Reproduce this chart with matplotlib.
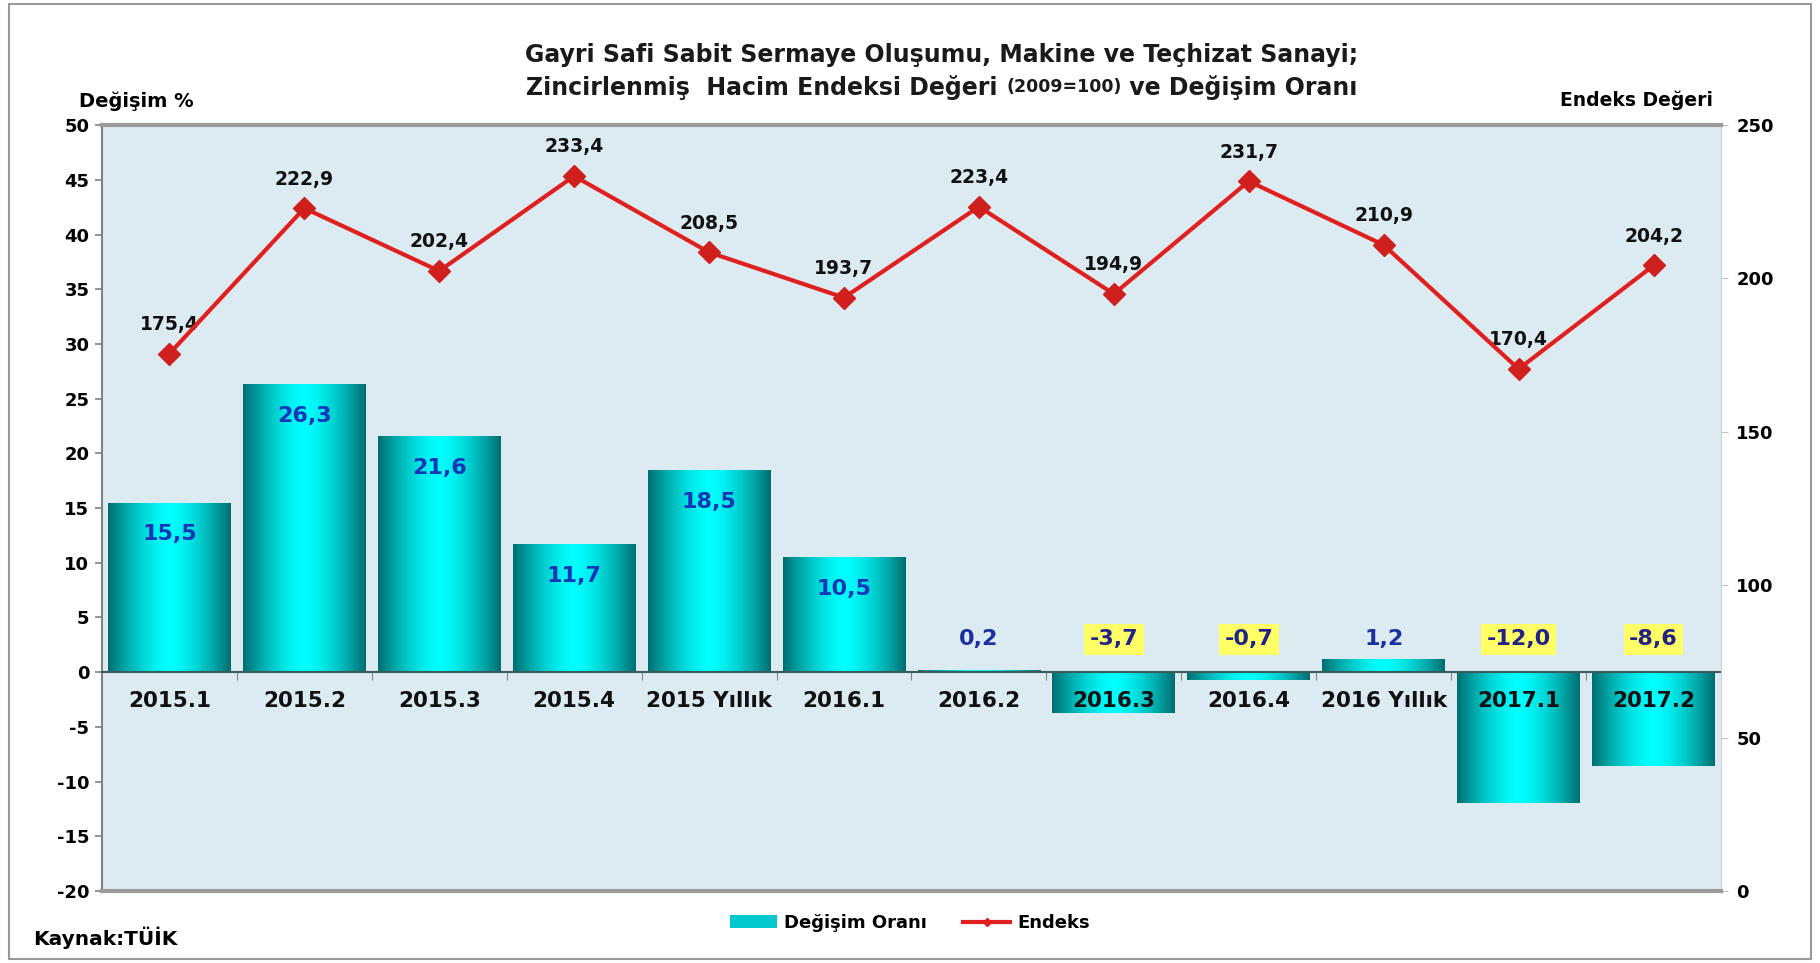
import numpy as np
import matplotlib
matplotlib.use("Agg")
import matplotlib.pyplot as plt
from matplotlib.patches import Patch, Rectangle
from matplotlib.lines import Line2D

categories = ["2015.1", "2015.2", "2015.3", "2015.4", "2015 Yıllık", "2016.1",
              "2016.2", "2016.3", "2016.4", "2016 Yıllık", "2017.1", "2017.2"]
change_rate = [15.5, 26.3, 21.6, 11.7, 18.5, 10.5, 0.2, -3.7, -0.7, 1.2, -12.0, -8.6]
index_value = [175.4, 222.9, 202.4, 233.4, 208.5, 193.7, 223.4, 194.9, 231.7, 210.9, 170.4, 204.2]
left_ticks = list(range(-20, 51, 5))
right_ticks = list(range(0, 251, 50))

def tr(v):
    return f"{v:.1f}".replace(".", ",")

plt.rcParams['font.family'] = ['DejaVu Sans']
plt.rcParams['font.weight'] = 'bold'
plt.rcParams['axes.unicode_minus'] = False

fig = plt.figure(figsize=(18.2, 9.63), dpi=100)
fig.patches.append(Rectangle((0.005, 0.004), 0.99, 0.992, transform=fig.transFigure,
                             fill=False, edgecolor='#9a9a9a', lw=1.5))

ax = fig.add_axes([0.056, 0.0748, 0.8896, 0.7952])
ax.set_facecolor('#DCEBF2')
ax.set_xlim(-0.5, len(categories) - 0.5)
ax.set_ylim(-20, 50)
ax.set_yticks(left_ticks)
ax.tick_params(axis='y', labelsize=13, length=5, color='#808080', width=1.2, pad=4)
for lab in ax.get_yticklabels():
    lab.set_fontweight('bold')

# bars with cylindrical gradient
x = np.arange(len(categories))
bars = ax.bar(x, change_rate, width=0.91, color='none', edgecolor='none', zorder=2)
n = 256
t = np.abs(np.linspace(-1, 1, n))
prof = t ** 1.5
dark = np.array([0.0, 0.43, 0.44])
bright = np.array([0.0, 1.0, 1.0])
grad = bright[None, :] * (1 - prof[:, None]) + dark[None, :] * prof[:, None]
img = np.tile(grad[None, :, :], (2, 1, 1))
for b in bars:
    x0 = b.get_x(); w = b.get_width(); y0 = b.get_y(); h = b.get_height()
    im = ax.imshow(img, extent=(x0, x0 + w, min(y0, y0 + h), max(y0, y0 + h)),
                   aspect='auto', zorder=2, interpolation='bilinear')
    im.set_clip_path(b)
ax.set_xlim(-0.5, len(categories) - 0.5)
ax.set_ylim(-20, 50)

# zero line spine and category ticks
ax.spines['bottom'].set_position(('data', 0))
ax.spines['bottom'].set_color('#3C5A5A')
ax.spines['bottom'].set_linewidth(1.5)
ax.spines['bottom'].set_zorder(3)
ax.set_xticks(np.arange(0.5, len(categories) - 0.5, 1))
ax.tick_params(axis='x', direction='out', length=6, color='#7a8a8a', labelbottom=False)
ax.spines['left'].set_color('#808080')
ax.spines['left'].set_linewidth(1.5)
ax.spines['top'].set_visible(False)
ax.spines['right'].set_visible(False)

for i, c in enumerate(categories):
    ax.annotate(c, xy=(i, 0), xytext=(0, -21), textcoords='offset points',
                ha='center', va='center', fontsize=15.5, fontweight='bold',
                color='#111111', zorder=5)

# bar value labels
for i, v in enumerate(change_rate):
    if v > 5:
        ax.text(i, v - 2.9, tr(v), ha='center', va='center', fontsize=16,
                fontweight='bold', color='#1636b8', zorder=6)
    elif v >= 0:
        ax.text(i, 3.0, tr(v), ha='center', va='center', fontsize=16,
                fontweight='bold', color='#1b2fa0', zorder=6)
    else:
        ax.text(i, 3.0, tr(v), ha='center', va='center', fontsize=16,
                fontweight='bold', color='#222288', zorder=6,
                bbox=dict(boxstyle='square,pad=0.25', facecolor='#FFFF66', edgecolor='none'))

# right axis with line
ax2 = ax.twinx()
ax2.set_ylim(0, 250)
ax2.set_yticks(right_ticks)
ax2.tick_params(axis='y', labelsize=13, length=5, color='#c0c0c0', pad=6)
for lab in ax2.get_yticklabels():
    lab.set_fontweight('bold')
ax2.spines['left'].set_visible(False)
ax2.spines['right'].set_color('#c8d4da')
ax2.spines['top'].set_color('#9a9a9a')
ax2.spines['top'].set_linewidth(3)
ax2.spines['bottom'].set_color('#9a9a9a')
ax2.spines['bottom'].set_linewidth(3)
ax2.plot(x, index_value, color='#E0201E', lw=3, marker='D', ms=11,
         markerfacecolor='#D0201E', markeredgecolor='#D0201E', zorder=4)
for i, v in enumerate(index_value):
    ax2.annotate(tr(v), xy=(i, v), xytext=(0, 21), textcoords='offset points',
                 ha='center', va='center', fontsize=13.5, fontweight='bold', color='#111111')

# axis titles
fig.text(0.0435, 0.895, "Değişim %", fontsize=14, fontweight='bold', ha='left', va='center')
fig.text(0.941, 0.896, "Endeks Değeri", fontsize=13.5, fontweight='bold', ha='right', va='center')

# title
fig.text(0.5176, 0.943, "Gayri Safi Sabit Sermaye Oluşumu, Makine ve Teçhizat Sanayi;",
         fontsize=17, fontweight='bold', ha='center', va='center', color='#1a1a1a')
fig.canvas.draw()
r = fig.canvas.get_renderer()
parts = [("Zincirlenmiş  Hacim Endeksi Değeri ", 17), ("(2009=100)", 12.5), (" ve Değişim Oranı", 17)]
texts = [fig.text(0, 0.9096, s, fontsize=fs, fontweight='bold', ha='left', va='center',
                  color='#1a1a1a') for s, fs in parts]
widths = [tx.get_window_extent(r).width for tx in texts]
total = sum(widths)
xpix = 0.5176 * fig.bbox.width - total / 2
for tx, w in zip(texts, widths):
    tx.set_x(xpix / fig.bbox.width)
    xpix += w

fig.text(0.018, 0.026, "Kaynak:TÜİK", fontsize=14.5, fontweight='bold', ha='left', va='center')

handles = [Patch(facecolor='#00C8CC', edgecolor='none', label='Değişim Oranı'),
           Line2D([0], [0], color='#E0201E', lw=3, marker='D', ms=4, label='Endeks')]
fig.legend(handles=handles, loc='center', bbox_to_anchor=(0.5, 0.0415), ncol=2,
           frameon=False, prop={'size': 13, 'weight': 'bold'}, handlelength=2.6,
           handletextpad=0.4, columnspacing=2.0)

fig.savefig("out.png", dpi=100)
